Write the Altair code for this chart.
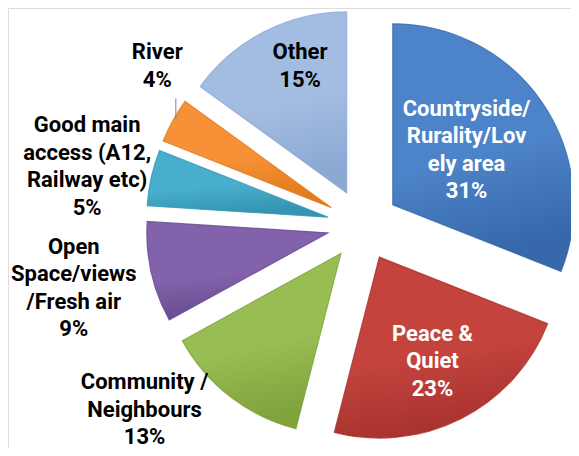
import math
import altair as alt
import pandas as pd

# ---- data ----
categories = ["Countryside/Rurality/Lovely area", "Peace & Quiet", "Community / Neighbours",
              "Open Space/views /Fresh air", "Good main access (A12, Railway etc)", "River", "Other"]
label_lines = ["Countryside/\nRurality/Lov\nely area", "Peace &\nQuiet", "Community /\nNeighbours",
               "Open\nSpace/views\n/Fresh air", "Good main\naccess (A12,\nRailway etc)", "River", "Other"]
values = [31, 23, 13, 9, 5, 4, 15]

# ---- style / layout ----
light = ["#4d83c8", "#c4433d", "#98bd52", "#8262aa", "#47aecb", "#f79137", "#a3bce1"]
dark = ["#3668ab", "#a8332f", "#80a33c", "#674a90", "#3395b1", "#e27c1e", "#8ca9d4"]
text_colors = ["white", "white", "black", "black", "black", "black", "black"]
label_angle = [54, 153, 229.8, 257.7, 282, 307.7, 338.4]    # degrees, clockwise from 12 o'clock
label_radius = [128, 153, 286, 296, 282, 260, 171]           # px from pie centre
W, H = 563, 440
CX, CY = 355, 217
R = 181
EXPLODE = 36
LH = 27.5
FONT = "Roboto, sans-serif"

df = pd.DataFrame({
    "cat": categories,
    "lines": label_lines,
    "value": values,
    "order": list(range(len(values))),
    "lab_ang": label_angle,
    "lab_r": label_radius,
    "tcol": text_colors,
})

base = alt.Chart(df).transform_window(
    cum="sum(value)", frame=[None, 0], sort=[alt.SortField("order")]
).transform_joinaggregate(total="sum(value)").transform_calculate(
    t0="2*PI*(datum.cum - datum.value)/datum.total",
    t1="2*PI*datum.cum/datum.total",
).transform_calculate(
    mid="(datum.t0 + datum.t1)/2",
    label="datum.lines + '\\n' + round(100*datum.value/datum.total) + '%'",
).transform_calculate(
    nl="length(split(datum.label, '\\n'))",
    ax=f"{CX} + {EXPLODE}*sin(datum.mid)",
    ay=f"{CY} - {EXPLODE}*cos(datum.mid)",
    lx=f"{CX} + datum.lab_r*sin(datum.lab_ang*PI/180)",
).transform_calculate(
    ly=f"{CY} - datum.lab_r*cos(datum.lab_ang*PI/180) - (datum.nl - 1)*{LH}/2",
)

layers = []
for i, c in enumerate(categories):
    grad = {
        "gradient": "linear", "x1": 0, "y1": 0, "x2": 0.2, "y2": 1,
        "stops": [{"offset": 0, "color": light[i]}, {"offset": 0.6, "color": light[i]},
                  {"offset": 1, "color": dark[i]}],
    }
    layers.append(
        base.transform_filter(alt.datum.cat == c).mark_arc(
            outerRadius=R, fill=grad, stroke=dark[i], strokeWidth=1.2, strokeOpacity=0.8
        ).encode(
            theta=alt.Theta("t0:Q", scale=None),
            theta2="t1:Q",
            x=alt.X("ax:Q", scale=None),
            y=alt.Y("ay:Q", scale=None),
        )
    )

# leader line for the smallest slice (River)
leader = base.transform_filter(alt.datum.cat == "River").transform_calculate(
    px=f"datum.ax + {R}*sin(datum.mid) + 3",
    py=f"datum.ay - {R}*cos(datum.mid) - 2",
).transform_calculate(py2="datum.py - 20").mark_rule(color="#808080", strokeWidth=1).encode(
    x=alt.X("px:Q", scale=None), y=alt.Y("py:Q", scale=None), y2="py2:Q"
)

labels = base.mark_text(
    font=FONT, fontSize=22, fontWeight="bold", lineBreak="\n", lineHeight=LH,
    align="center", baseline="middle"
).encode(
    x=alt.X("lx:Q", scale=None),
    y=alt.Y("ly:Q", scale=None),
    text="label:N",
    color=alt.Color("tcol:N", scale=None),
)

chart = alt.layer(*layers, leader, labels).properties(
    width=W, height=H, autosize=alt.AutoSizeParams(type="none"), padding=0
).configure_view(stroke=None).configure(background="white")

chart.save("out.html", embed_options={"renderer": "svg", "actions": False})
